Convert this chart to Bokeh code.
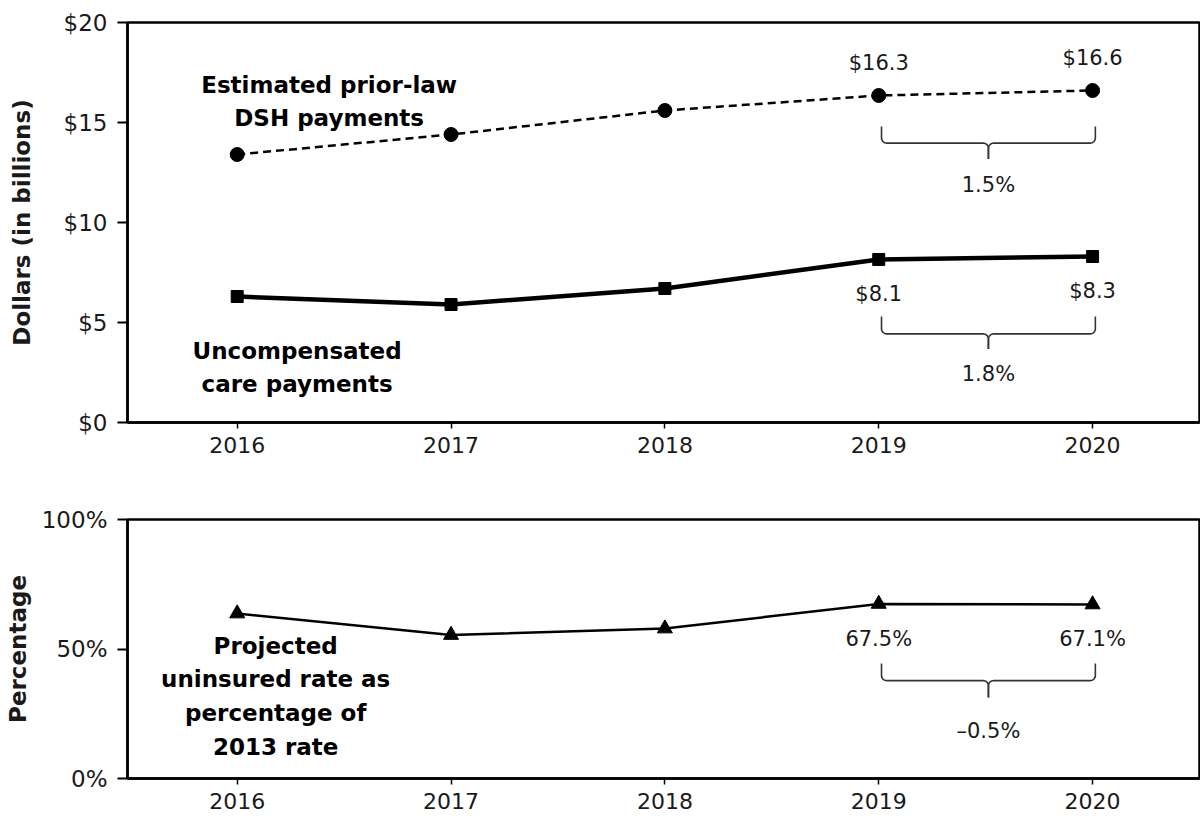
import numpy as np
from bokeh.plotting import figure
from bokeh.layouts import column
from bokeh.models import FixedTicker, Range1d
from bokeh.embed import file_html
from bokeh.resources import INLINE
from bokeh.core.properties import value

# ---------------- data ----------------
years = [2016, 2017, 2018, 2019, 2020]
dsh = [13.4, 14.4, 15.6, 16.35, 16.6]          # estimated prior-law DSH payments ($B)
ucp = [6.3, 5.9, 6.7, 8.15, 8.3]              # uncompensated care payments ($B)
uninsured = [63.7, 55.4, 57.9, 67.4, 67.2]    # projected uninsured rate as % of 2013 rate

dollar_ticks = [0, 5, 10, 15, 20]
dollar_tick_labels = ["$0", "$5", "$10", "$15", "$20"]
pct_ticks = [0, 50, 100]
pct_tick_labels = ["0%", "50%", "100%"]
year_labels = ["2016", "2017", "2018", "2019", "2020"]

dsh_labels = ["$16.3", "$16.6"]
ucp_labels = ["$8.1", "$8.3"]
uninsured_labels = ["67.5%", "67.1%"]
growth_labels = ["1.5%", "1.8%", "\u20130.5%"]

FONT = "DejaVu Sans"
BOLD_FS = "23px"
VAL_FS = "21px"


def make_fig(height, yr, ticks, tick_labels, ylabel, top, bottom, title_standoff):
    p = figure(width=1200, height=height,
               x_range=Range1d(2015.487, 2020.5), y_range=Range1d(*yr),
               output_backend="svg", toolbar_location=None,
               min_border_left=127, min_border_right=1,
               min_border_top=top, min_border_bottom=bottom)
    p.grid.visible = False
    p.background_fill_color = "white"
    p.border_fill_color = "white"
    p.outline_line_color = "black"
    p.outline_line_width = 2.5

    xa = p.xaxis[0]
    xa.ticker = FixedTicker(ticks=years)
    xa.major_label_overrides = {y: l for y, l in zip(years, year_labels)}
    xa.major_tick_in = 0
    xa.major_tick_out = 6
    xa.minor_tick_line_color = None
    xa.axis_line_width = 2.5
    xa.major_tick_line_width = 1.5
    xa.major_label_text_font = FONT
    xa.major_label_text_font_size = "22px"
    xa.major_label_text_color = "#1a1a1a"
    xa.major_label_standoff = 8

    ya = p.yaxis[0]
    ya.ticker = FixedTicker(ticks=ticks)
    ya.major_label_overrides = {t: l for t, l in zip(ticks, tick_labels)}
    ya.major_tick_in = 0
    ya.major_tick_out = 10
    ya.minor_tick_line_color = None
    ya.axis_line_width = 2.5
    ya.major_tick_line_width = 2
    ya.major_label_text_font = FONT
    ya.major_label_text_font_size = "23px"
    ya.major_label_text_color = "#1a1a1a"
    ya.major_label_standoff = 10
    ya.axis_label = ylabel
    ya.axis_label_text_font = FONT
    ya.axis_label_text_font_size = "23px"
    ya.axis_label_text_font_style = "bold"
    ya.axis_label_text_color = "#1a1a1a"
    ya.axis_label_standoff = title_standoff
    return p


def draw_brace(p, x0, x1, ytop, yh, ytip, rx, ry, n=10):
    xm = (x0 + x1) / 2
    t = np.linspace(0, np.pi / 2, n)
    ax = x0 + rx * (1 - np.cos(t))
    ay = yh + ry * (1 - np.sin(t))
    bx = xm - rx + rx * np.sin(t)
    by = yh - ry + ry * np.cos(t)
    lx = np.concatenate([[x0], ax, bx, [xm]])
    ly = np.concatenate([[ytop], ay, by, [ytip]])
    rxs = 2 * xm - lx
    p.multi_line(xs=[list(lx), list(rxs)], ys=[list(ly), list(ly)],
                 line_color="#333333", line_width=1.6)
    return xm


# ---------------- top chart ----------------
top = make_fig(470, (0, 20), dollar_ticks, dollar_tick_labels,
               "Dollars (in billions)", 22, 48, 26)

top.line(years, dsh, line_color="black", line_width=2.5, line_dash="8 5")
top.scatter(years, dsh, marker="circle", size=14, color="black")
top.line(years, ucp, line_color="black", line_width=4.5)
top.scatter(years, ucp, marker="square", size=12, color="black")

top.text(x=years[3:], y=[v + 1.65 for v in dsh[3:]], text=dsh_labels,
         text_font=value(FONT), text_font_size=VAL_FS, text_color="#1a1a1a",
         text_align="center", text_baseline="middle")
top.text(x=years[3:], y=[v - 1.7 for v in ucp[3:]], text=ucp_labels,
         text_font=value(FONT), text_font_size=VAL_FS, text_color="#1a1a1a",
         text_align="center", text_baseline="middle")

xm = draw_brace(top, 2019.013, 2020.013, 14.8, 13.97, 13.18, 0.024, 0.26)
top.text(x=[xm], y=[11.9], text=[growth_labels[0]], text_font=value(FONT),
         text_font_size=VAL_FS, text_color="#1a1a1a", text_align="center",
         text_baseline="middle")
xm = draw_brace(top, 2019.013, 2020.013, 5.3, 4.43, 3.68, 0.024, 0.26)
top.text(x=[xm], y=[2.45], text=[growth_labels[1]], text_font=value(FONT),
         text_font_size=VAL_FS, text_color="#1a1a1a", text_align="center",
         text_baseline="middle")

top.text(x=[2016.43], y=[16.05], text=["Estimated prior-law\nDSH payments"],
         text_font=value(FONT), text_font_size=BOLD_FS, text_font_style="bold",
         text_color="black", text_align="center", text_baseline="middle",
         text_line_height=1.3)
top.text(x=[2016.28], y=[2.75], text=["Uncompensated\ncare payments"],
         text_font=value(FONT), text_font_size=BOLD_FS, text_font_style="bold",
         text_color="black", text_align="center", text_baseline="middle",
         text_line_height=1.3)

# ---------------- bottom chart ----------------
bot = make_fig(353, (0, 100), pct_ticks, pct_tick_labels,
               "Percentage", 49, 45, 8)

bot.line(years, uninsured, line_color="black", line_width=2.5)
bot.scatter(years, uninsured, marker="triangle", size=15, color="black")
bot.text(x=years[3:], y=[v - 13.5 for v in uninsured[3:]], text=uninsured_labels,
         text_font=value(FONT), text_font_size=VAL_FS, text_color="#1a1a1a",
         text_align="center", text_baseline="middle")
xm = draw_brace(bot, 2019.013, 2020.013, 44.4, 37.8, 31.3, 0.024, 2.0)
bot.text(x=[xm], y=[18.5], text=[growth_labels[2]], text_font=value(FONT),
         text_font_size=VAL_FS, text_color="#1a1a1a", text_align="center",
         text_baseline="middle")
bot.text(x=[2016.18], y=[31.7],
         text=["Projected\nuninsured rate as\npercentage of\n2013 rate"],
         text_font=value(FONT), text_font_size=BOLD_FS, text_font_style="bold",
         text_color="black", text_align="center", text_baseline="middle",
         text_line_height=1.3)

layout = column(top, bot, spacing=0)
open("out.html", "w").write(file_html(layout, INLINE))
